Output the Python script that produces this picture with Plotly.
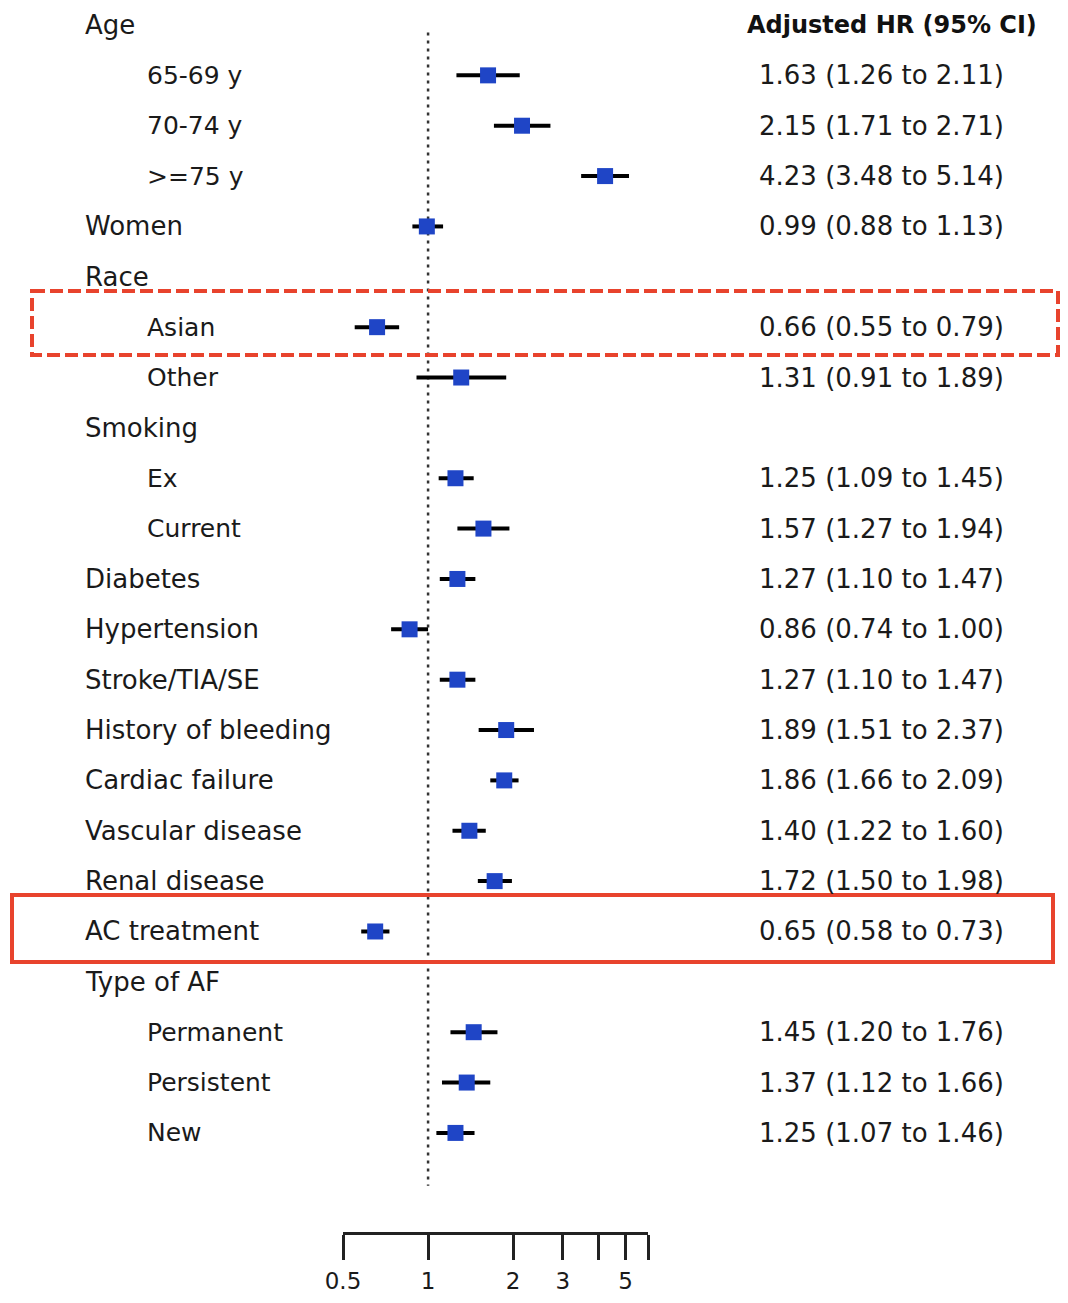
import math
import plotly.graph_objects as go

# ---- data ----
labels = ["Age", "65-69 y", "70-74 y", ">=75 y", "Women", "Race", "Asian", "Other",
          "Smoking", "Ex", "Current", "Diabetes", "Hypertension", "Stroke/TIA/SE",
          "History of bleeding", "Cardiac failure", "Vascular disease", "Renal disease",
          "AC treatment", "Type of AF", "Permanent", "Persistent", "New"]
levels = [0, 1, 1, 1, 0, 0, 1, 1, 0, 1, 1, 0, 0, 0, 0, 0, 0, 0, 0, 0, 1, 1, 1]
hr = [None, 1.63, 2.15, 4.23, 0.99, None, 0.66, 1.31, None, 1.25, 1.57, 1.27, 0.86, 1.27,
      1.89, 1.86, 1.40, 1.72, 0.65, None, 1.45, 1.37, 1.25]
lo = [None, 1.26, 1.71, 3.48, 0.88, None, 0.55, 0.91, None, 1.09, 1.27, 1.10, 0.74, 1.10,
      1.51, 1.66, 1.22, 1.50, 0.58, None, 1.20, 1.12, 1.07]
hi = [None, 2.11, 2.71, 5.14, 1.13, None, 0.79, 1.89, None, 1.45, 1.94, 1.47, 1.00, 1.47,
      2.37, 2.09, 1.60, 1.98, 0.73, None, 1.76, 1.66, 1.46]
tick_vals = [0.5, 1, 2, 3, 4, 5, 6]
tick_text = ["0.5", "1", "2", "3", "", "5", ""]
header = "Adjusted HR (95% CI)"

# page body has an 8px margin; size the figure to fit the window without scrolling
OFF = 8
W, H = 1068 - OFF, 1303 - 2 * OFF
FONT = "DejaVu Sans"


def px(x):
    return (x - OFF) / W


ROW0, ROWH = 25.0, 50.36  # reference pixel of first row and row pitch
AXIS_Y = 1232
y_top = (OFF - ROW0) / ROWH
y_bot = (AXIS_Y - ROW0) / ROWH

idx = [i for i in range(len(labels)) if hr[i] is not None]
xs = [hr[i] for i in idx]
ys = idx
ep = [hi[i] - hr[i] for i in idx]
em = [hr[i] - lo[i] for i in idx]

fig = go.Figure()
# null line at HR = 1
fig.add_trace(go.Scatter(
    x=[1, 1], y=[0.15, 23.05], mode="lines",
    line=dict(color="#333333", width=2.5, dash="3px,5px"),
    showlegend=False, hoverinfo="skip",
))
fig.add_trace(go.Scatter(
    x=xs, y=ys, mode="markers",
    marker=dict(symbol="square", size=16, color="#1f45c6", line=dict(width=0)),
    error_x=dict(type="data", symmetric=False, array=ep, arrayminus=em,
                 color="black", thickness=4, width=0),
    showlegend=False, hoverinfo="skip",
))

# labels
for i, lab in enumerate(labels):
    x0 = 83 if levels[i] == 0 else 145
    fig.add_annotation(x=px(x0), xref="paper", y=i, yref="y", text=lab,
                       xanchor="left", yanchor="middle", showarrow=False,
                       font=dict(family=FONT, size=26 if levels[i] == 0 else 25, color="#1a1a1a"))
    if hr[i] is not None:
        txt = f"{hr[i]:.2f} ({lo[i]:.2f} to {hi[i]:.2f})"
        fig.add_annotation(x=px(757), xref="paper", y=i, yref="y", text=txt,
                           xanchor="left", yanchor="middle", showarrow=False,
                           font=dict(family=FONT, size=26, color="#1a1a1a"))

fig.add_annotation(x=px(745), xref="paper", y=0, yref="y", text="<b>" + header + "</b>",
                   xanchor="left", yanchor="middle", showarrow=False,
                   font=dict(family=FONT, size=24, color="#111111"))

# highlight boxes
fig.add_shape(type="rect", xref="paper", yref="y", x0=px(32), x1=px(1058),
              y0=(291 - ROW0) / ROWH, y1=(355 - ROW0) / ROWH,
              line=dict(color="#e8432d", width=4, dash="13px,5px"))
fig.add_shape(type="rect", xref="paper", yref="y", x0=px(12), x1=px(1053),
              y0=(895 - ROW0) / ROWH, y1=(962 - ROW0) / ROWH,
              line=dict(color="#e8432d", width=4))

fig.update_layout(
    width=W, height=H,
    margin=dict(l=0, r=0, t=0, b=H - (AXIS_Y - OFF), autoexpand=False),
    paper_bgcolor="white", plot_bgcolor="white",
    xaxis=dict(type="log", domain=[px(343), px(648)],
               range=[math.log10(0.5), math.log10(6)],
               tickvals=tick_vals, ticktext=tick_text,
               showgrid=False, zeroline=False, automargin=False,
               showline=True, linecolor="#222222", linewidth=3,
               ticks="outside", ticklen=25, tickwidth=3, tickcolor="#222222",
               ticklabelstandoff=1,
               tickfont=dict(family=FONT, size=23, color="#1a1a1a"),
               fixedrange=True),
    yaxis=dict(range=[y_bot, y_top], visible=False, showgrid=False,
               zeroline=False, automargin=False),
)

fig.write_html("out.html")
